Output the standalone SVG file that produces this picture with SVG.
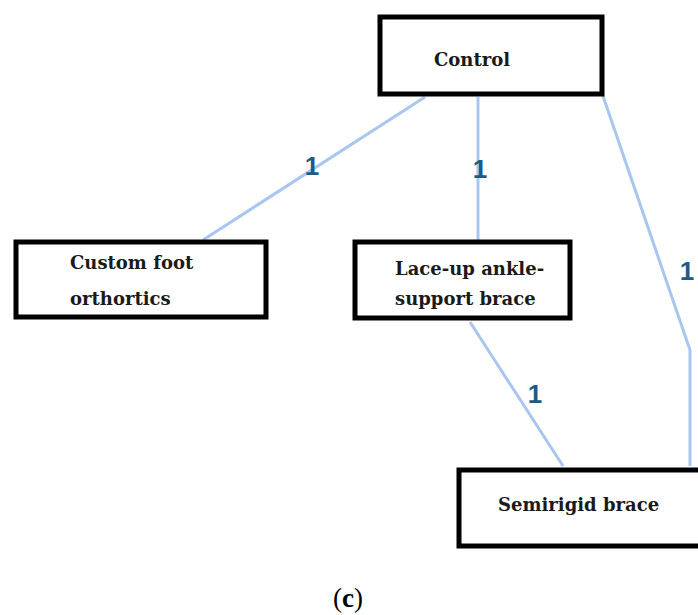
<svg xmlns="http://www.w3.org/2000/svg" width="698" height="615" viewBox="0 0 698 615">
<style>
.box{fill:#fff;stroke:#000;stroke-width:5}
.lbl{font-family:"DejaVu Serif","Liberation Serif",serif;font-weight:bold;font-size:18px;fill:#1a1a1a}
.con{fill:none;stroke:#a9c6ee;stroke-width:3}
.num{font-family:"Liberation Sans","DejaVu Sans",sans-serif;font-weight:bold;font-size:26px;fill:#1d5a86;text-anchor:middle}
</style>
<rect width="698" height="615" fill="#fff"/>
<g id="connectors">
<line class="con" x1="425" y1="97" x2="203" y2="240"/>
<line class="con" x1="478" y1="97" x2="478" y2="240"/>
<polyline class="con" points="603,96 690,350 690,466"/>
<line class="con" x1="470" y1="322" x2="563" y2="466"/>
<text class="num" x="312" y="175">1</text>
<text class="num" x="480" y="178">1</text>
<text class="num" x="687" y="280">1</text>
<text class="num" x="535" y="403">1</text>
</g>
<g id="control">
<rect class="box" x="380" y="17" width="222" height="77"/>
<text class="lbl" x="472" y="66" text-anchor="middle">Control</text>
</g>
<g id="custom-foot">
<rect class="box" x="16" y="242" width="250" height="75"/>
<text class="lbl" x="70" y="269">Custom foot</text>
<text class="lbl" x="70" y="305">orthortics</text>
</g>
<g id="lace-up">
<rect class="box" x="355" y="242" width="215" height="76"/>
<text class="lbl" x="395" y="275">Lace-up ankle-</text>
<text class="lbl" x="395" y="305">support brace</text>
</g>
<g id="semirigid">
<rect class="box" x="459" y="470" width="245" height="76"/>
<text class="lbl" x="498" y="511">Semirigid brace</text>
</g>
<text x="348" y="607" text-anchor="middle" font-family="Liberation Serif, serif" font-size="27" fill="#000">(<tspan font-weight="bold">c</tspan>)</text>
</svg>
